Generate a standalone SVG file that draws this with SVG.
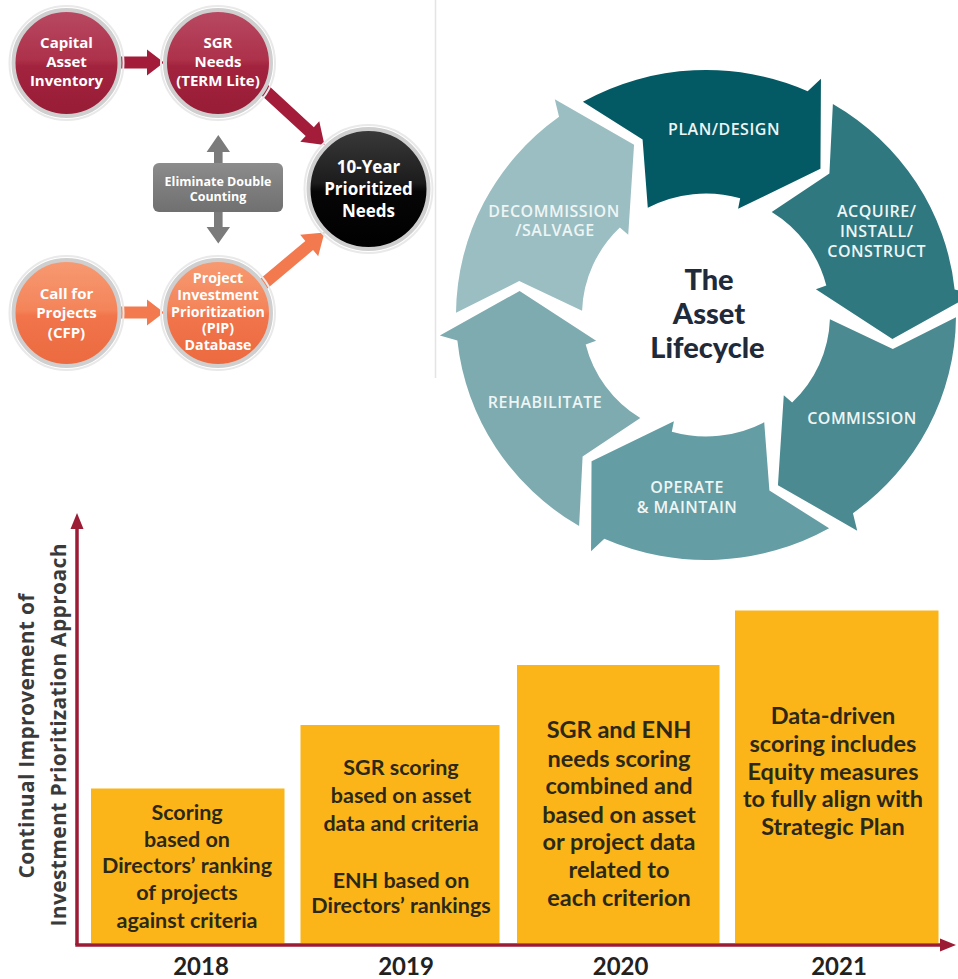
<svg xmlns="http://www.w3.org/2000/svg" width="958" height="979" viewBox="0 0 958 979">
<defs>
  <linearGradient id="gRed" x1="0" y1="0" x2="0" y2="1">
    <stop offset="0" stop-color="#b84a63"/>
    <stop offset="0.47" stop-color="#ad314a"/>
    <stop offset="0.53" stop-color="#a2233d"/>
    <stop offset="1" stop-color="#981c36"/>
  </linearGradient>
  <linearGradient id="gOrange" x1="0" y1="0" x2="0" y2="1">
    <stop offset="0" stop-color="#f79a72"/>
    <stop offset="0.47" stop-color="#f4845a"/>
    <stop offset="0.53" stop-color="#f1744a"/>
    <stop offset="1" stop-color="#ec6a40"/>
  </linearGradient>
  <linearGradient id="gBlack" x1="0" y1="0" x2="0" y2="1">
    <stop offset="0" stop-color="#3a3a3a"/>
    <stop offset="0.45" stop-color="#1c1c1c"/>
    <stop offset="0.52" stop-color="#060606"/>
    <stop offset="1" stop-color="#000"/>
  </linearGradient>
  <linearGradient id="gGray" x1="0" y1="0" x2="0" y2="1">
    <stop offset="0" stop-color="#8c8c8c"/>
    <stop offset="0.5" stop-color="#7d7d7d"/>
    <stop offset="1" stop-color="#707070"/>
  </linearGradient>
  <path id="seg" d="M249.99,2.18 A250,250 0 0 1 146.95,202.25 L151.22,220.04 L71.94,173.69 L77.78,81.97 L86.14,89.20 A124,124 0 0 0 123.92,4.33 L186.82,34.63 Z"/>
</defs>
<style>
  .ring{stroke:#cfcfcf;stroke-width:4}
  .halo{fill:none;stroke:#e9e9e9;stroke-width:2}
  .ct{font-family:"Open Sans","Liberation Sans",sans-serif;font-weight:700;fill:#ffffff;text-anchor:middle}
  .lc{font-family:"Open Sans","Liberation Sans",sans-serif;font-weight:600;font-size:16px;letter-spacing:0.5px;fill:#eef5f5;text-anchor:middle}
  .title{font-family:Lato,"Liberation Sans",sans-serif;font-weight:900;font-size:29px;fill:#1f2a3a;text-anchor:middle}
  .bt{font-family:Lato,"Liberation Sans",sans-serif;font-weight:700;font-size:21.5px;fill:#2b2818;text-anchor:middle}
  .bt2{font-family:Lato,"Liberation Sans",sans-serif;font-weight:700;font-size:23.5px;fill:#2b2818;text-anchor:middle}
  .yr{font-family:Lato,"Liberation Sans",sans-serif;font-weight:700;font-size:24px;fill:#222222;text-anchor:middle}
  .yl{font-family:"Open Sans","Liberation Sans",sans-serif;font-weight:700;font-size:21px;fill:#3a3a3a;text-anchor:middle}
  .bar{fill:#fbb518}
  .axis{stroke:#9c1b35;stroke-width:3.5;fill:none}
</style>
<rect width="958" height="979" fill="#ffffff"/>
<line x1="435.5" y1="0" x2="435.5" y2="378" stroke="#e4e4e4" stroke-width="1.5"/>

<g id="connectors">
  <path d="M118,56.5 L147,56.5 L147,49.5 L164,62.5 L147,75.5 L147,68.5 L118,68.5 Z" fill="#a31d3a"/>
  <path d="M0,-6 L88,-6 L88,-14 L108,0 L88,14 L88,6 L0,6 Z" fill="#a31d3a" transform="translate(245,72) rotate(42.6)"/>
  <path d="M118,306.5 L147,306.5 L147,299.5 L164,312.5 L147,325.5 L147,318.5 L118,318.5 Z" fill="#f37a4e"/>
  <path d="M0,-6 L80,-6 L80,-14 L100,0 L80,14 L80,6 L0,6 Z" fill="#f37a4e" transform="translate(248,297) rotate(-40.1)"/>
  <path d="M218.3,135 L230,152 L222.6,152 L222.6,227 L230,227 L218.3,243.5 L206.6,227 L214,227 L214,152 L206.6,152 Z" fill="#7b7b7b"/>
</g>

<g id="capital-asset-inventory">
  <circle cx="66.5" cy="63" r="57" class="halo"/>
  <circle cx="66.5" cy="63" r="53" fill="url(#gRed)" class="ring"/>
  <text class="ct" font-size="15"><tspan x="66.5" y="48.3">Capital</tspan><tspan x="66.5" y="66.7">Asset</tspan><tspan x="66.5" y="86">Inventory</tspan></text>
</g>
<g id="sgr-needs">
  <circle cx="218" cy="63" r="57" class="halo"/>
  <circle cx="218" cy="63" r="53" fill="url(#gRed)" class="ring"/>
  <text class="ct" font-size="15"><tspan x="218" y="48.3">SGR</tspan><tspan x="218" y="66.7">Needs</tspan><tspan x="218" y="86">(TERM Lite)</tspan></text>
</g>
<g id="ten-year-prioritized-needs">
  <circle cx="368.5" cy="189" r="64" class="halo"/>
  <circle cx="368.5" cy="189" r="60" fill="url(#gBlack)" class="ring"/>
  <text class="ct" font-size="17"><tspan x="368.5" y="173.3">10-Year</tspan><tspan x="368.5" y="195">Prioritized</tspan><tspan x="368.5" y="216.7">Needs</tspan></text>
</g>
<g id="eliminate-double-counting">
  <rect x="153" y="163" width="130" height="49" rx="6" fill="url(#gGray)"/>
  <text class="ct" font-size="12.5"><tspan x="218" y="185.5">Eliminate Double</tspan><tspan x="218" y="201">Counting</tspan></text>
</g>
<g id="call-for-projects">
  <circle cx="66.5" cy="313" r="57" class="halo"/>
  <circle cx="66.5" cy="313" r="53" fill="url(#gOrange)" class="ring"/>
  <text class="ct" font-size="15"><tspan x="66.5" y="299">Call for</tspan><tspan x="66.5" y="318.3">Projects</tspan><tspan x="66.5" y="337.7">(CFP)</tspan></text>
</g>
<g id="pip-database">
  <circle cx="218" cy="313" r="57" class="halo"/>
  <circle cx="218" cy="313" r="53" fill="url(#gOrange)" class="ring"/>
  <text class="ct" font-size="14.2"><tspan x="218" y="283.3">Project</tspan><tspan x="218" y="300">Investment</tspan><tspan x="218" y="316.7">Prioritization</tspan><tspan x="218" y="333.3">(PIP)</tspan><tspan x="218" y="350">Database</tspan></text>
</g>

<g id="plan-design">
  <use href="#seg" transform="translate(706,315) scale(1,0.98) rotate(-120)" fill="#045a64"/>
  <text class="lc" x="724" y="135">PLAN/DESIGN</text>
</g>
<g id="acquire-install-construct">
  <use href="#seg" transform="translate(706,315) scale(1,0.98) rotate(-60)" fill="#2f7880"/>
  <text class="lc"><tspan x="876.7" y="216.7">ACQUIRE/</tspan><tspan x="876.7" y="236.7">INSTALL/</tspan><tspan x="876.7" y="256.7">CONSTRUCT</tspan></text>
</g>
<g id="commission">
  <use href="#seg" transform="translate(706,315) scale(1,0.98) rotate(0)" fill="#4b8a91"/>
  <text class="lc" x="862" y="424.3">COMMISSION</text>
</g>
<g id="operate-maintain">
  <use href="#seg" transform="translate(706,315) scale(1,0.98) rotate(60)" fill="#649da4"/>
  <text class="lc"><tspan x="687" y="493.3">OPERATE</tspan><tspan x="687" y="512.7">&amp; MAINTAIN</tspan></text>
</g>
<g id="rehabilitate">
  <use href="#seg" transform="translate(706,315) scale(1,0.98) rotate(120)" fill="#7eabb0"/>
  <text class="lc" x="545" y="408.3">REHABILITATE</text>
</g>
<g id="decommission-salvage">
  <use href="#seg" transform="translate(706,315) scale(1,0.98) rotate(180)" fill="#9bbec2"/>
  <text class="lc"><tspan x="554" y="216.7">DECOMMISSION</tspan><tspan x="555" y="236">/SALVAGE</tspan></text>
</g>
<g id="asset-lifecycle-title">
  <text class="title"><tspan x="709" y="290">The</tspan><tspan x="709" y="324.3">Asset</tspan><tspan x="707.5" y="357.7">Lifecycle</tspan></text>
</g>

<g id="axes">
  <line x1="77" y1="945" x2="77" y2="526" class="axis"/>
  <path d="M77,513 L83.5,529 L70.5,529 Z" fill="#9c1b35"/>
  <line x1="75.3" y1="945" x2="942" y2="945" class="axis"/>
  <path d="M956,945 L940,951.5 L940,938.5 Z" fill="#9c1b35"/>
  <text class="yl" transform="translate(33.5,736) rotate(-90)" textLength="285">Continual Improvement of</text>
  <text class="yl" transform="translate(66,735) rotate(-90)" textLength="383">Investment Prioritization Approach</text>
</g>

<g id="bar-2018">
  <rect class="bar" x="91" y="788.5" width="193.5" height="154.5"/>
  <text class="bt"><tspan x="187" y="820">Scoring</tspan><tspan x="187" y="846.7">based on</tspan><tspan x="187" y="873.3">Directors’ ranking</tspan><tspan x="187" y="900">of projects</tspan><tspan x="187" y="928.3">against criteria</tspan></text>
  <text class="yr" x="201" y="975">2018</text>
</g>
<g id="bar-2019">
  <rect class="bar" x="300.5" y="725" width="199" height="218"/>
  <text class="bt"><tspan x="401" y="775">SGR scoring</tspan><tspan x="401" y="803.3">based on asset</tspan><tspan x="401" y="831">data and criteria</tspan><tspan x="401" y="887.7">ENH based on</tspan><tspan x="401" y="913.3">Directors’ rankings</tspan></text>
  <text class="yr" x="406" y="975">2019</text>
</g>
<g id="bar-2020">
  <rect class="bar" x="517" y="665" width="202.5" height="278"/>
  <text class="bt2"><tspan x="619" y="738.3">SGR and ENH</tspan><tspan x="619" y="766.7">needs scoring</tspan><tspan x="619" y="794.3">combined and</tspan><tspan x="619" y="822.7">based on asset</tspan><tspan x="619" y="850">or project data</tspan><tspan x="619" y="877.7">related to</tspan><tspan x="619" y="906">each criterion</tspan></text>
  <text class="yr" x="620.6" y="975">2020</text>
</g>
<g id="bar-2021">
  <rect class="bar" x="735" y="610.5" width="203.5" height="332.5"/>
  <text class="bt2"><tspan x="833" y="724">Data-driven</tspan><tspan x="833" y="752.3">scoring includes</tspan><tspan x="833" y="780">Equity measures</tspan><tspan x="833" y="807.3">to fully align with</tspan><tspan x="833" y="835">Strategic Plan</tspan></text>
  <text class="yr" x="839" y="975">2021</text>
</g>
</svg>
